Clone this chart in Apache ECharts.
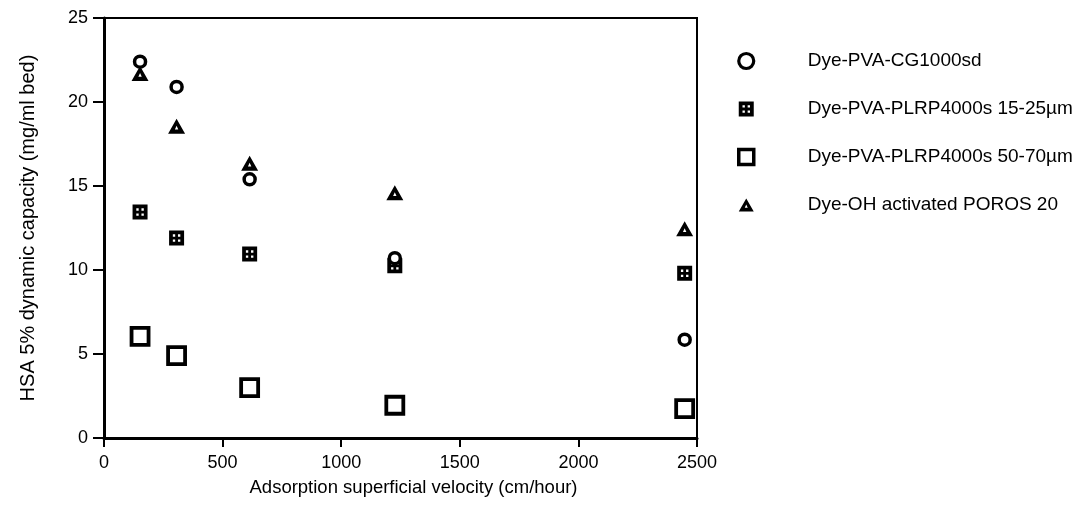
<!DOCTYPE html>
<html>
<head>
<meta charset="utf-8">
<script src="https://cdn.jsdelivr.net/npm/echarts@6/dist/echarts.min.js"></script>
<style>
html,body{margin:0;padding:0;background:#fff;}
#chart{width:1076px;height:513px;}
</style>
</head>
<body>
<div id="chart"></div>
<script>
// Data
var velocities = [152, 306, 614, 1226, 2448];
var cg1000sd = [22.4, 20.9, 15.4, 10.7, 5.85];
var plrp15_25 = [13.45, 11.9, 10.95, 10.25, 9.8];
var plrp50_70 = [6.05, 4.9, 3.0, 1.95, 1.75];
var poros20 = [21.7, 18.55, 16.35, 14.6, 12.45];
var seriesNames = [
  'Dye-PVA-CG1000sd',
  'Dye-PVA-PLRP4000s 15-25\u00b5m',
  'Dye-PVA-PLRP4000s 50-70\u00b5m',
  'Dye-OH activated POROS 20'
];
var yTicks = [0, 5, 10, 15, 20, 25];
var xTicks = [0, 500, 1000, 1500, 2000, 2500];

function pairs(ys) { return velocities.map(function (x, i) { return [x, ys[i]]; }); }

var FONT = '"Liberation Sans", Arial, Helvetica, sans-serif';
var hashSquare = 'path://M0,0 L14,0 L14,14 L0,14 Z M3.5,3.5 L3.5,5.7 L5.7,5.7 L5.7,3.5 Z M8.3,3.5 L8.3,5.7 L10.5,5.7 L10.5,3.5 Z M3.5,8.3 L3.5,10.5 L5.7,10.5 L5.7,8.3 Z M8.3,8.3 L8.3,10.5 L10.5,10.5 L10.5,8.3 Z';
var holedTriangle = 'path://M8,0 L16,14 L0,14 Z M8,6.5 L6.4,10 L9.6,10 Z';

var chart = echarts.init(document.getElementById('chart'), null, {renderer: 'canvas'});
chart.setOption({
  animation: false,
  backgroundColor: '#fff',
  textStyle: {fontFamily: FONT, color: '#000'},
  grid: {left: 104, right: 379, top: 18, bottom: 75, show: true, borderColor: '#000', borderWidth: 2, backgroundColor: 'transparent'},
  legend: {
    orient: 'vertical',
    left: 732, top: 46,
    itemWidth: 15, itemHeight: 15,
    itemGap: 28,
    data: [
      {name: seriesNames[0], itemStyle: {color: '#fff', borderColor: '#000', borderWidth: 3.2}},
      {name: seriesNames[1], itemStyle: {color: '#000', borderWidth: 0}},
      {name: seriesNames[2], itemStyle: {color: '#fff', borderColor: '#000', borderWidth: 3.5}},
      {name: seriesNames[3], itemStyle: {color: '#000', borderWidth: 0}}
    ],
    textStyle: {fontFamily: FONT, fontSize: 19, color: '#000', lineHeight: 20, padding: [0, 0, 0, 49]}
  },
  xAxis: {
    type: 'value', min: 0, max: 2500, interval: 500,
    name: 'Adsorption superficial velocity (cm/hour)',
    nameLocation: 'middle', nameGap: 40,
    nameTextStyle: {fontFamily: FONT, fontSize: 18.5, color: '#000', padding: [0, 0, 0, 26]},
    axisLine: {show: true, lineStyle: {color: '#000', width: 3}},
    axisTick: {show: true, inside: false, length: 9, lineStyle: {color: '#000', width: 2}},
    axisLabel: {fontFamily: FONT, fontSize: 18, color: '#000', margin: 16,
      formatter: function (v) { return xTicks.indexOf(v) >= 0 ? String(v) : ''; }},
    splitLine: {show: false}
  },
  yAxis: {
    type: 'value', min: 0, max: 25, interval: 5,
    name: 'HSA 5% dynamic capacity (mg/ml bed)',
    nameLocation: 'middle', nameGap: 66, nameRotate: 90,
    nameTextStyle: {fontFamily: FONT, fontSize: 20, color: '#000'},
    axisLine: {show: true, lineStyle: {color: '#000', width: 3}},
    axisTick: {show: true, inside: false, length: 11, lineStyle: {color: '#000', width: 2}},
    axisLabel: {fontFamily: FONT, fontSize: 18, color: '#000', margin: 16,
      formatter: function (v) { return yTicks.indexOf(v) >= 0 ? String(v) : ''; }},
    splitLine: {show: false}
  },
  series: [
    {name: seriesNames[0], type: 'scatter', data: pairs(cg1000sd), symbol: 'circle', symbolSize: 11,
      itemStyle: {color: '#fff', borderColor: '#000', borderWidth: 3.5, opacity: 1}, z: 3},
    {name: seriesNames[1], type: 'scatter', data: pairs(plrp15_25), symbol: hashSquare, symbolSize: 15,
      itemStyle: {color: '#000', borderWidth: 0, opacity: 1}, z: 2},
    {name: seriesNames[2], type: 'scatter', data: pairs(plrp50_70), symbol: 'rect', symbolSize: 17,
      itemStyle: {color: '#fff', borderColor: '#000', borderWidth: 3.8, opacity: 1}, z: 2},
    {name: seriesNames[3], type: 'scatter', data: pairs(poros20), symbol: holedTriangle, symbolSize: [17, 15],
      itemStyle: {color: '#000', borderWidth: 0, opacity: 1}, z: 2}
  ]
});
</script>
</body>
</html>
